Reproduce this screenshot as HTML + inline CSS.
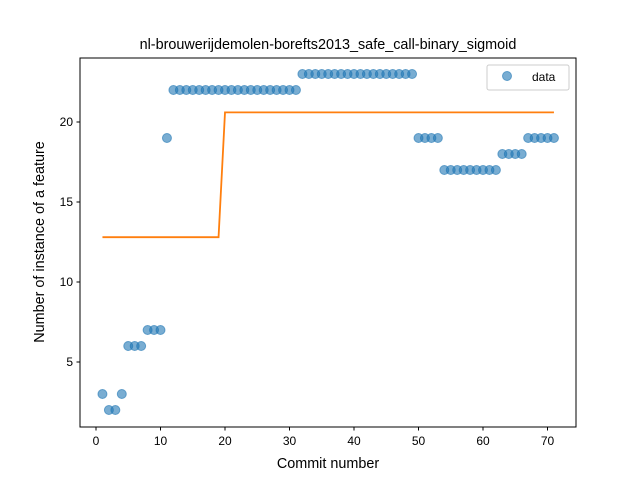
<!DOCTYPE html>
<html><head><meta charset="utf-8"><style>
body{margin:0;background:#fff;}
svg text{font-family:"Liberation Sans","DejaVu Sans",sans-serif;fill:#000;}
</style></head><body>
<svg id="chart" width="640" height="480" xmlns="http://www.w3.org/2000/svg">
<rect width="640" height="480" fill="#fff"/>
<text x="328" y="49" font-size="14.4" text-anchor="middle">nl-brouwerijdemolen-borefts2013_safe_call-binary_sigmoid</text>
<g id="plot"></g>
<rect x="80" y="58" width="496" height="369" fill="none" stroke="#000" stroke-width="1"/>
<text x="328" y="468" font-size="14.4" text-anchor="middle">Commit number</text>
<text x="0" y="0" font-size="14.4" text-anchor="middle" transform="translate(44,242) rotate(-90)">Number of instance of a feature</text>
<g>
<rect x="487" y="65" width="82" height="25" rx="2" fill="#fff" stroke="#ccc"/>
<circle cx="507" cy="76" r="4.5" fill="#1f77b4" fill-opacity="0.6" stroke="#1f77b4" stroke-opacity="0.6"/>
<text x="532" y="81" font-size="12">data</text>
</g>
</svg>
<script>
const xs=[1,2,3,4,5,6,7,8,9,10,11,12,13,14,15,16,17,18,19,20,21,22,23,24,25,26,27,28,29,30,31,32,33,34,35,36,37,38,39,40,41,42,43,44,45,46,47,48,49,50,51,52,53,54,55,56,57,58,59,60,61,62,63,64,65,66,67,68,69,70,71];
const ys=[3,2,2,3,6,6,6,7,7,7,19,22,22,22,22,22,22,22,22,22,22,22,22,22,22,22,22,22,22,22,22,23,23,23,23,23,23,23,23,23,23,23,23,23,23,23,23,23,23,19,19,19,19,17,17,17,17,17,17,17,17,17,18,18,18,18,19,19,19,19,19];
const fitX=[1,19,20,71];
const fitY=[12.8,12.8,20.6,20.6];
const xTicks=[0,10,20,30,40,50,60,70];
const yTicks=[5,10,15,20];
const NS="http://www.w3.org/2000/svg";
const sx=v=>96+v*6.45;
const sy=v=>442-v*16;
const g=document.getElementById('plot');
function mk(t,a){const e=document.createElementNS(NS,t);for(const k in a)e.setAttribute(k,a[k]);g.appendChild(e);return e;}
xTicks.forEach(v=>{
 const l=mk('line',{x1:sx(v),x2:sx(v),y1:427,y2:430.5,stroke:'#000'});
 
 
 const t=mk('text',{x:sx(v),y:445,'font-size':12,'text-anchor':'middle'});t.textContent=v;
 
 
});
yTicks.forEach(v=>{
 const l=mk('line',{x1:76.5,x2:80,y1:sy(v),y2:sy(v),stroke:'#000'});
 
 
 const t=mk('text',{x:73,y:sy(v)+4,'font-size':12,'text-anchor':'end'});t.textContent=v;
 
 
});
xs.forEach((x,i)=>{
 const c=mk('circle',{cx:sx(x),cy:sy(ys[i]),r:4.5,fill:'#1f77b4','fill-opacity':0.6,stroke:'#1f77b4','stroke-opacity':0.6});
 
 
});
const p=mk('polyline',{points:fitX.map((x,i)=>sx(x)+','+sy(fitY[i])).join(' '),fill:'none',stroke:'#ff7f0e','stroke-width':1.8});


</script>
</body></html>
